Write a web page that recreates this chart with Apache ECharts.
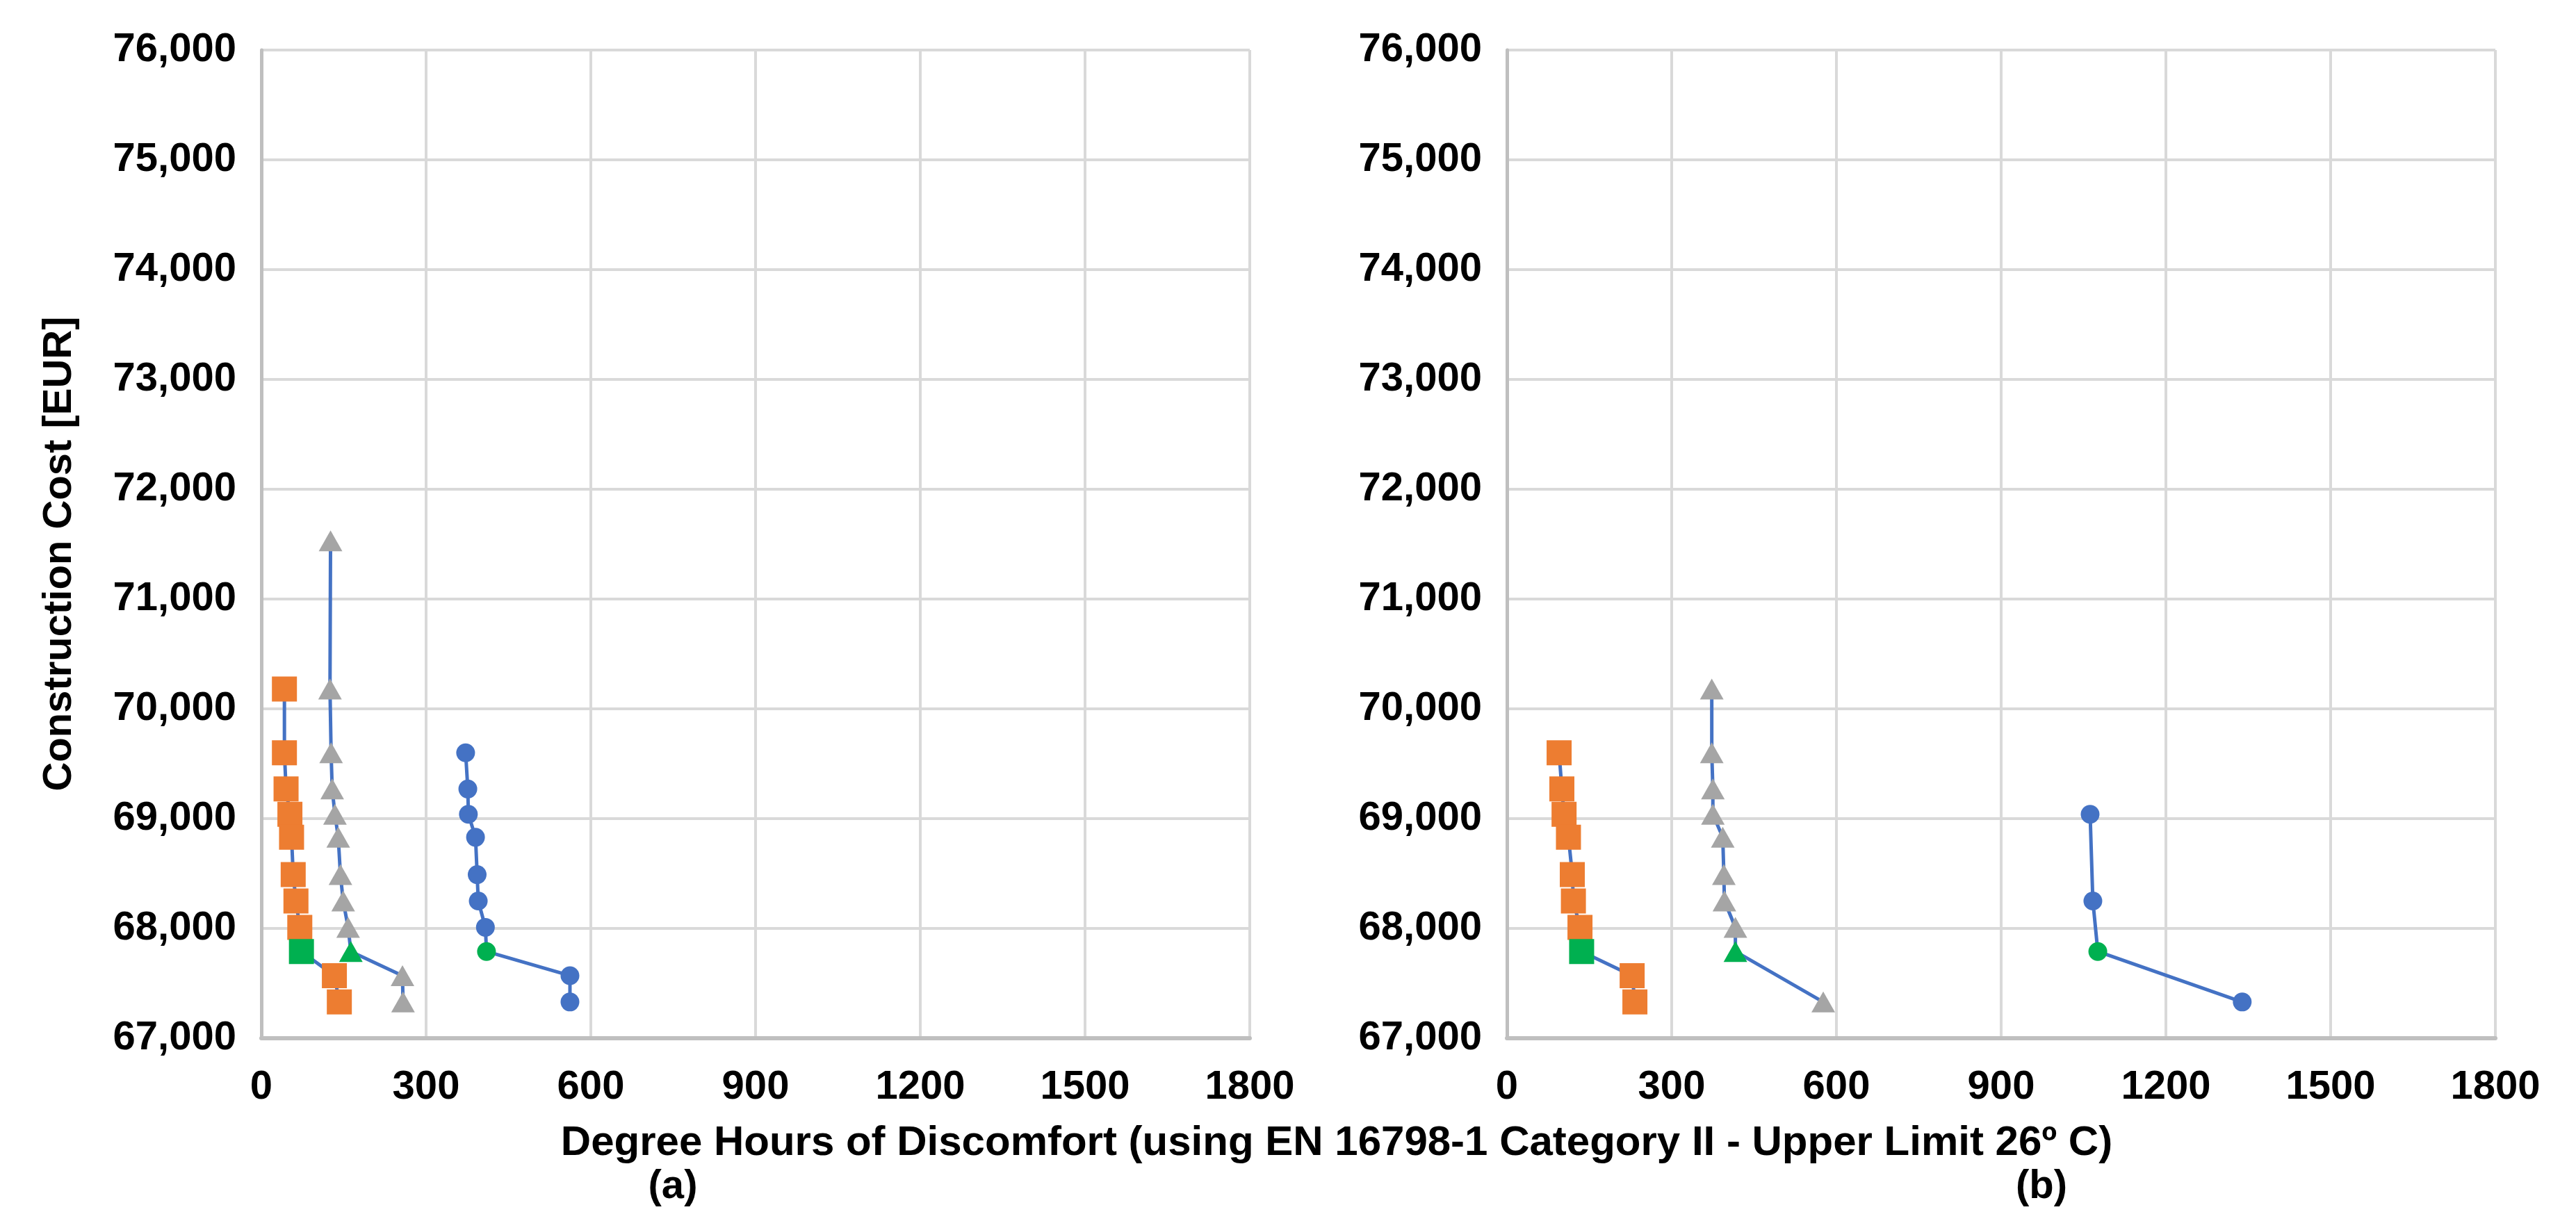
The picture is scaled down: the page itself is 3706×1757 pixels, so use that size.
<!DOCTYPE html>
<html>
<head>
<meta charset="utf-8">
<title>Construction cost vs degree hours of discomfort</title>
<script src="https://cdn.jsdelivr.net/npm/echarts@6.0.0/dist/echarts.min.js"></script>
<style>
  body { margin: 0; background: #fff; }
  #main { width: 3706px; height: 1757px; }
</style>
</head>
<body>
<div id="main"></div>
<script>
// tick labels
var costTicks = [67000, 68000, 69000, 70000, 71000, 72000, 73000, 74000, 75000, 76000];
var hourTicks = [0, 300, 600, 900, 1200, 1500, 1800];

// (a) left panel
var orangeAHours = [42, 42, 45, 52, 55, 58, 63, 70, 73, 133, 142];
var orangeACost = [70180, 69600, 69270, 69040, 68830, 68490, 68250, 68010, 67790, 67570, 67330];
var orangeAGreen = 8;
var grayAHours = [126, 125, 127, 129, 134, 140, 144, 149, 158, 163, 257, 258];
var grayACost = [71530, 70180, 69600, 69270, 69040, 68830, 68490, 68250, 68010, 67790, 67570, 67330];
var grayAGreen = 9;
var blueAHours = [372, 376, 377, 390, 393, 395, 408, 410, 562, 562];
var blueACost = [69600, 69270, 69040, 68830, 68490, 68250, 68010, 67790, 67570, 67330];
var blueAGreen = 7;

// (b) right panel
var orangeBHours = [95, 100, 104, 112, 119, 121, 133, 136, 228, 233];
var orangeBCost = [69600, 69270, 69040, 68830, 68490, 68250, 68010, 67790, 67570, 67330];
var orangeBGreen = 7;
var grayBHours = [373, 373, 375, 375, 393, 395, 396, 416, 416, 576];
var grayBCost = [70180, 69600, 69270, 69040, 68830, 68490, 68250, 68010, 67790, 67330];
var grayBGreen = 8;
var blueBHours = [1062, 1067, 1076, 1339];
var blueBCost = [69040, 68250, 67790, 67330];
var blueBGreen = 2;

var FONT = '"Liberation Sans", Arial, sans-serif';
var LINE_BLUE = '#4472C4';
var GREEN = '#00B050';

function pts(hours, cost, greenIdx) {
  return hours.map(function (h, i) {
    var p = { value: [h, cost[i]] };
    if (i === greenIdx) p.itemStyle = { color: GREEN };
    return p;
  });
}

function makeSeries(idx, hours, cost, greenIdx, symbol, size, color) {
  return {
    type: 'line',
    xAxisIndex: idx,
    yAxisIndex: idx,
    data: pts(hours, cost, greenIdx),
    symbol: symbol,
    symbolSize: size,
    showAllSymbol: true,
    lineStyle: { color: LINE_BLUE, width: 5 },
    itemStyle: { color: color },
    emphasis: { disabled: true }
  };
}

function xAxisOpt(idx) {
  return {
    type: 'value',
    gridIndex: idx,
    min: hourTicks[0],
    max: hourTicks[hourTicks.length - 1],
    interval: 300,
    axisLine: { show: true, onZero: false, lineStyle: { color: '#BFBFBF', width: 6 } },
    axisTick: { show: false },
    axisLabel: {
      margin: 42, color: '#000', fontSize: 58, fontWeight: 'bold', fontFamily: FONT,
      formatter: function (v) { return String(v); }
    },
    splitLine: { show: true, lineStyle: { color: '#D9D9D9', width: 4 } }
  };
}

function yAxisOpt(idx) {
  return {
    type: 'value',
    gridIndex: idx,
    min: costTicks[0],
    max: costTicks[costTicks.length - 1],
    interval: 1000,
    axisLine: { show: true, onZero: false, lineStyle: { color: '#BFBFBF', width: 5 } },
    axisTick: { show: false },
    axisLabel: {
      margin: 36, color: '#000', fontSize: 58, fontWeight: 'bold', fontFamily: FONT,
      formatter: function (v) { return v.toLocaleString('en-US'); }
    },
    splitLine: { show: true, lineStyle: { color: '#D9D9D9', width: 4 } }
  };
}

var myChart = echarts.init(document.getElementById('main'));

let option = {
  backgroundColor: '#fff',
  animation: false,
  grid: [
    { left: 376, top: 72, width: 1422, height: 1422 },
    { left: 2168, top: 72, width: 1422, height: 1422 }
  ],
  xAxis: [xAxisOpt(0), xAxisOpt(1)],
  yAxis: [yAxisOpt(0), yAxisOpt(1)],
  series: [
    makeSeries(0, orangeAHours, orangeACost, orangeAGreen, 'rect', 36, '#ED7D31'),
    makeSeries(0, grayAHours, grayACost, grayAGreen, 'triangle', [34, 30], '#A5A5A5'),
    makeSeries(0, blueAHours, blueACost, blueAGreen, 'circle', 27, LINE_BLUE),
    makeSeries(1, orangeBHours, orangeBCost, orangeBGreen, 'rect', 36, '#ED7D31'),
    makeSeries(1, grayBHours, grayBCost, grayBGreen, 'triangle', [34, 30], '#A5A5A5'),
    makeSeries(1, blueBHours, blueBCost, blueBGreen, 'circle', 27, LINE_BLUE)
  ],
  graphic: [
    {
      type: 'text', x: 1923, y: 1645,
      style: {
        text: 'Degree Hours of Discomfort (using EN 16798-1 Category II - Upper Limit 26º C)',
        fill: '#000', font: 'bold 60px ' + FONT, align: 'center', verticalAlign: 'middle'
      }
    },
    {
      type: 'text', x: 968, y: 1708,
      style: { text: '(a)', fill: '#000', font: 'bold 58px ' + FONT, align: 'center', verticalAlign: 'middle' }
    },
    {
      type: 'text', x: 2937, y: 1708,
      style: { text: '(b)', fill: '#000', font: 'bold 58px ' + FONT, align: 'center', verticalAlign: 'middle' }
    },
    {
      type: 'text', x: 86, y: 797, rotation: Math.PI / 2,
      style: { text: 'Construction Cost [EUR]', fill: '#000', font: 'bold 58px ' + FONT, align: 'center', verticalAlign: 'middle' }
    }
  ]
};

myChart.setOption(option);
</script>
</body>
</html>
